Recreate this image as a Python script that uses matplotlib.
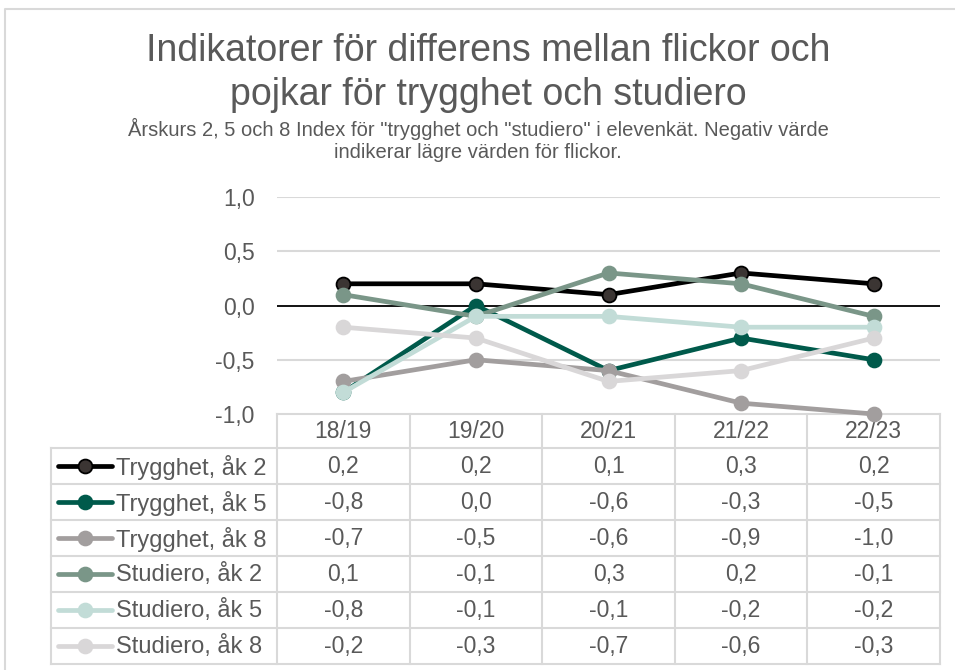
import matplotlib
matplotlib.use("Agg")
import matplotlib.pyplot as plt
from matplotlib.lines import Line2D

plt.rcParams['font.family'] = ['Liberation Sans', 'DejaVu Sans']

categories = ["18/19", "19/20", "20/21", "21/22", "22/23"]
series_names = ["Trygghet, åk 2", "Trygghet, åk 5", "Trygghet, åk 8",
                "Studiero, åk 2", "Studiero, åk 5", "Studiero, åk 8"]
trygghet_ak2 = [0.2, 0.2, 0.1, 0.3, 0.2]
trygghet_ak5 = [-0.8, 0.0, -0.6, -0.3, -0.5]
trygghet_ak8 = [-0.7, -0.5, -0.6, -0.9, -1.0]
studiero_ak2 = [0.1, -0.1, 0.3, 0.2, -0.1]
studiero_ak5 = [-0.8, -0.1, -0.1, -0.2, -0.2]
studiero_ak8 = [-0.2, -0.3, -0.7, -0.6, -0.3]
series_values = [trygghet_ak2, trygghet_ak5, trygghet_ak8,
                 studiero_ak2, studiero_ak5, studiero_ak8]
yticks = [-1.0, -0.5, 0.0, 0.5, 1.0]
title = "Indikatorer för differens mellan flickor och\npojkar för trygghet och studiero"
subtitle = ("Årskurs 2, 5 och 8 Index för \"trygghet och \"studiero\" i elevenkät. Negativ värde\n"
            "indikerar lägre värden för flickor.")

line_colors = ["#000000", "#005a4b", "#a29e9e", "#7a9688", "#c2dcd7", "#d9d7d8"]
marker_faces = ["#3b3533", "#005a4b", "#a29e9e", "#7a9688", "#c2dcd7", "#d9d7d8"]
marker_edges = ["#000000", "#005a4b", "#a29e9e", "#7a9688", "#c2dcd7", "#d9d7d8"]

W, H = 955, 670
DPI = 100
fig = plt.figure(figsize=(W / DPI, H / DPI), dpi=DPI)
TXT = "#595959"
GRID = "#d9d9d9"

def fx(px):
    return px / W

def fy(py):
    return 1 - py / H

# plot area in pixels
L, R, T, B = 277, 940, 197, 414
ax = fig.add_axes([fx(L), fy(B), fx(R) - fx(L), fy(T) - fy(B)])
ax.set_xlim(-0.5, len(categories) - 0.5)
ax.set_ylim(-1.0, 1.0)
ax.set_yticks(yticks)
ax.set_yticklabels([f"{v:.1f}".replace(".", ",") for v in yticks],
                   fontsize=16.5, color=TXT)
ax.tick_params(axis='y', length=0, pad=16)
ax.set_xticks([])
for s in ax.spines.values():
    s.set_visible(False)
for v in yticks:
    if v == 0.0:
        ax.axhline(v, color="black", lw=1.3, zorder=1)
    elif v != -1.0:
        ax.axhline(v, color=GRID, lw=1.5, zorder=0)
ax.patch.set_alpha(0)
xs = list(range(len(categories)))
for i in range(len(series_values)):
    ax.plot(xs, series_values[i], color=line_colors[i], lw=3.4,
            marker='o', ms=10, mfc=marker_faces[i], mec=marker_edges[i],
            mew=1.3, zorder=3 + i, clip_on=False, solid_capstyle='round')

# overlay axes in pixel coords for text/table
ov = fig.add_axes([0, 0, 1, 1])
ov.set_xlim(0, W)
ov.set_ylim(H, 0)
ov.axis('off')
ov.patch.set_alpha(0)
ax.set_zorder(2)
ov.set_zorder(1)

# chart border
ov.plot([5, 5, 960], [700, 9, 9], color=GRID, lw=1.5)

ov.text(488, 73, title, ha='center', va='center', fontsize=27, color=TXT,
        linespacing=1.3)
ov.text(478, 140, subtitle, ha='center', va='center', fontsize=14.5, color=TXT,
        linespacing=1.15)

# table geometry
col_edges = [L + (R - L) * k / len(categories) for k in range(len(categories) + 1)]
header_top, header_bot = 414, 448
row_h = 36
row_tops = [header_bot + row_h * k for k in range(len(series_names) + 1)]
left_edge = 51
bottom = row_tops[-1]

lw_t = 1.5
ov.plot([L, R], [header_top, header_top], color=GRID, lw=lw_t)
for yy in row_tops:
    ov.plot([left_edge, R], [yy, yy], color=GRID, lw=lw_t)
for xx in col_edges:
    ov.plot([xx, xx], [header_top, bottom], color=GRID, lw=lw_t)
ov.plot([left_edge, left_edge], [header_bot, bottom], color=GRID, lw=lw_t)

FS = 16.5
for k, c in enumerate(categories):
    cx = (col_edges[k] + col_edges[k + 1]) / 2
    ov.text(cx, (header_top + header_bot) / 2 + 1, c, ha='center', va='center',
            fontsize=FS, color=TXT)

for r, name in enumerate(series_names):
    cy = row_tops[r] + row_h / 2
    ov.add_line(Line2D([58, 112], [cy, cy], color=line_colors[r], lw=3.4,
                       solid_capstyle='round'))
    ov.plot([85], [cy], marker='o', ms=10, mfc=marker_faces[r],
            mec=marker_edges[r], mew=1.3)
    ov.text(116, cy + 1, name, ha='left', va='center', fontsize=17, color=TXT)
    for k, v in enumerate(series_values[r]):
        cx = (col_edges[k] + col_edges[k + 1]) / 2
        ov.text(cx, cy + 1, f"{v:.1f}".replace(".", ","), ha='center',
                va='center', fontsize=FS, color=TXT)

fig.savefig("out.png", dpi=DPI, facecolor="white")
